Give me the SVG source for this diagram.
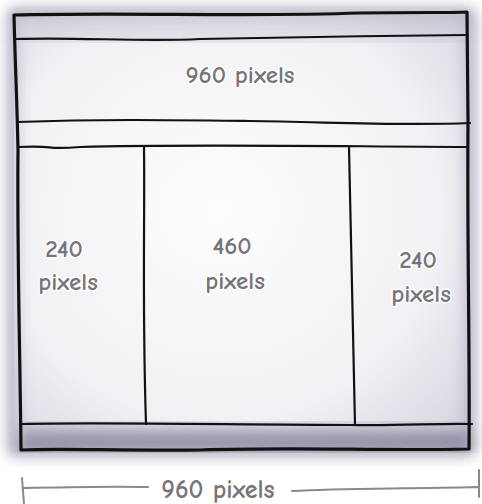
<svg xmlns="http://www.w3.org/2000/svg" width="482" height="504" viewBox="0 0 482 504">
<defs>
<style>
.ln{fill:none;stroke:#111;stroke-width:2.2;stroke-linecap:round;stroke-linejoin:round}
.bd{fill:none;stroke:#111;stroke-width:3.2;stroke-linecap:round;stroke-linejoin:round}
.t{font-family:"Comic Neue","Noto Sans","Liberation Sans",sans-serif;font-size:25px;font-weight:bold;fill:#77757a;text-anchor:middle;stroke:#fff;stroke-width:3;paint-order:stroke}
.dim{fill:none;stroke:#8a888c;stroke-width:2;stroke-linecap:round}
</style>
<filter id="blur" x="-10%" y="-10%" width="120%" height="120%"><feGaussianBlur stdDeviation="7"/></filter>
<filter id="blur2" x="-10%" y="-10%" width="120%" height="120%"><feGaussianBlur stdDeviation="12"/></filter>
<radialGradient id="bg" cx="0.45" cy="0.45" r="0.75">
<stop offset="0" stop-color="#fdfdfe"/>
<stop offset="0.65" stop-color="#f1f0f4"/>
<stop offset="1" stop-color="#d6d2de"/>
</radialGradient>
<linearGradient id="foot" x1="0" y1="0" x2="0" y2="1">
<stop offset="0" stop-color="#c4bfd0"/>
<stop offset="1" stop-color="#5e5575"/>
</linearGradient>
</defs>
<rect width="482" height="504" fill="#fff"/>
<g id="shade">
<rect x="14" y="14" width="455" height="436" fill="none" stroke="#8a81a0" stroke-width="10" filter="url(#blur)" opacity="0.55"/>
<rect x="14" y="14" width="455" height="436" fill="url(#bg)"/>
<rect x="20" y="424" width="450" height="26" fill="url(#foot)" filter="url(#blur)" opacity="0.8"/>
<rect x="14" y="14" width="455" height="436" fill="none" stroke="#8a81a0" stroke-width="8" filter="url(#blur)" opacity="0.5"/>
<rect x="20" y="16" width="446" height="24" fill="#b5afc3" filter="url(#blur2)" opacity="0.45"/>
</g>
<g id="page">
<path class="bd" d="M14,15 C120,12 250,17 360,13 C420,12 450,13 467,12 L468,120 C467,250 470,350 469,449 C380,451 300,447 200,450 C120,451 60,448 21,450 C20,350 17,250 18,150 C17,100 15,60 14,15 Z"/>
</g>
<g id="header">
<path class="ln" d="M16,39 C80,37 140,42 200,39 C280,37 380,36 467,35"/>
</g>
<g id="banner">
<path class="ln" d="M17,122 C100,119 170,120 250,121 C330,122 400,126 470,123"/>
<text class="t" x="240" y="83">960 pixels</text>
</g>
<g id="columns">
<path class="ln" d="M18,147 C60,145 40,150 80,147 C180,144 300,146 468,147"/>
<path class="ln" d="M144,147 C145,220 142,300 146,424"/>
<path class="ln" d="M349,147 C351,220 352,300 355,425"/>
<path class="ln" d="M22,424 C100,422 250,425 350,425 C400,426 440,423 472,424"/>
</g>
<g id="left-col"><text class="t" x="64" y="257">240</text><text class="t" x="68" y="290">pixels</text></g>
<g id="mid-col"><text class="t" x="232" y="254">460</text><text class="t" x="235" y="289">pixels</text></g>
<g id="right-col"><text class="t" x="418" y="268">240</text><text class="t" x="421" y="302">pixels</text></g>
<g id="connectors">
<path class="dim" d="M22,478 L24,504 M23,488 C70,487 110,486 148,487"/>
<path class="dim" d="M292,491 C340,488 400,489 478,487 M479,470 L479,497"/>
</g>
<text class="t" x="218" y="498" style="font-size:26px">960 pixels</text>
</svg>
